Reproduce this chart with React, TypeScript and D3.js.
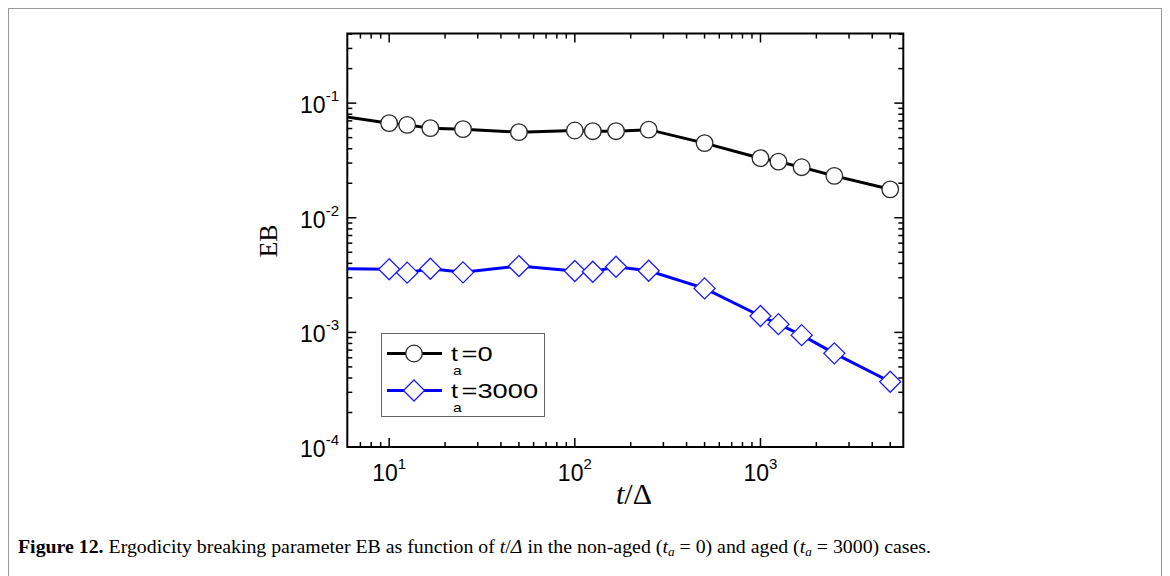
import React from "react";
import * as d3 from "d3";

const tValues = [5, 10, 12.5, 16.67, 25, 50, 100, 125, 166.7, 250, 500, 1000, 1250, 1666.7, 2500, 5000];
const ebNonAged = [0.079, 0.0669, 0.0646, 0.0605, 0.0593, 0.0558, 0.0577, 0.0569, 0.0569, 0.0587, 0.0448, 0.0331, 0.0309, 0.0276, 0.0232, 0.0177];
const ebAged = [0.0036, 0.00355, 0.00332, 0.00359, 0.00334, 0.00379, 0.00343, 0.00338, 0.00374, 0.00345, 0.00242, 0.00139, 0.00118, 0.000946, 0.000656, 0.000371];
const xDomain = [5.95, 5880];
const yDomain = [1e-4, 0.405];
const xMajorExp = [1, 2, 3];
const yMajorExp = [-1, -2, -3, -4];
const legendLabels = ["=0", "=3000"];

const W = 1170, H = 576;
const L = 347.3, R = 903.3, T = 33.5, B = 447;

export default function App() {
  const x = d3.scaleLog().domain(xDomain).range([L, R]);
  const y = d3.scaleLog().domain(yDomain).range([B, T]);
  const xt = x.ticks().filter((v) => v >= xDomain[0] * 1.01 && v <= xDomain[1]);
  const yt = y.ticks().filter((v) => v >= yDomain[0] && v <= yDomain[1]);
  const isMajor = (v: number) => Math.abs(Math.log10(v) - Math.round(Math.log10(v))) < 1e-6;

  const line = d3
    .line<number>()
    .x((_, i) => x(tValues[i]))
    .y((d) => y(d));

  const series = [
    { data: ebNonAged, color: "#000", mk: "#2a2a2a", shape: "circle" },
    { data: ebAged, color: "#0000ff", mk: "#1a1aff", shape: "diamond" },
  ];

  const marker = (shape: string, cx: number, cy: number, stroke: string, key: any) =>
    shape === "circle" ? (
      <circle key={key} cx={cx} cy={cy} r={8.3} fill="#fff" stroke={stroke} strokeWidth={1.3} />
    ) : (
      <path
        key={key}
        d={`M${cx},${cy - 10.5}L${cx + 10.5},${cy}L${cx},${cy + 10.5}L${cx - 10.5},${cy}Z`}
        fill="#fff"
        stroke={stroke}
        strokeWidth={1.3}
      />
    );

  const sans = "'Liberation Sans', Arial, sans-serif";
  const serif = "'Liberation Serif', 'Times New Roman', serif";

  return (
    <svg width={W} height={H} style={{ position: "absolute", left: 0, top: 0 }}>
      <rect x={0} y={0} width={W} height={H} fill="#fff" />
      <rect x={8.5} y={8.5} width={1153} height={620} fill="none" stroke="#9a9a9a" strokeWidth={1} />
      <defs>
        <clipPath id="plotclip">
          <rect x={L} y={T} width={R - L} height={B - T} />
        </clipPath>
      </defs>

      {/* ticks */}
      {xt.map((v, i) => {
        const len = isMajor(v) ? 9 : 5;
        const px = x(v);
        return (
          <g key={"xt" + i} stroke="#000" strokeWidth={1.5}>
            <line x1={px} x2={px} y1={B} y2={B - len} />
            <line x1={px} x2={px} y1={T} y2={T + len} />
          </g>
        );
      })}
      {yt.map((v, i) => {
        const len = isMajor(v) ? 9 : 5;
        const py = y(v);
        return (
          <g key={"yt" + i} stroke="#000" strokeWidth={1.5}>
            <line x1={L} x2={L + len} y1={py} y2={py} />
            <line x1={R} x2={R - len} y1={py} y2={py} />
          </g>
        );
      })}
      <rect x={L} y={T} width={R - L} height={B - T} fill="none" stroke="#000" strokeWidth={2} />

      {/* tick labels */}
      {xMajorExp.map((e) => (
        <text key={"xl" + e} x={x(Math.pow(10, e))} y={481} textAnchor="middle" fontFamily={sans} fontSize={23} fill="#000">
          10
          <tspan dy={-12} fontSize={15}>
            {e}
          </tspan>
        </text>
      ))}
      {yMajorExp.map((e) => (
        <text key={"yl" + e} x={339} y={y(Math.pow(10, e)) + 10} textAnchor="end" fontFamily={sans} fontSize={23} fill="#000">
          10
          <tspan dy={-12} fontSize={15}>
            {"-" + Math.abs(e)}
          </tspan>
        </text>
      ))}

      {/* axis titles */}
      <text transform="translate(277,241) rotate(-90)" textAnchor="middle" fontFamily={serif} fontSize={26} fill="#000">
        EB
      </text>
      <text x={634} y={504} textAnchor="middle" fontFamily={serif} fontSize={30} fill="#000">
        <tspan fontStyle="italic">t</tspan>
        <tspan>/Δ</tspan>
      </text>

      {/* series */}
      <g clipPath="url(#plotclip)">
        {series.map((s, si) => (
          <path key={"ln" + si} d={line(s.data) || ""} fill="none" stroke={s.color} strokeWidth={3} />
        ))}
      </g>
      {series.map((s, si) =>
        s.data.map((v, i) =>
          tValues[i] >= xDomain[0] ? marker(s.shape, x(tValues[i]), y(v), s.mk, "m" + si + "-" + i) : null
        )
      )}

      {/* legend */}
      <rect x={381.5} y={333.5} width={163} height={83} fill="#fff" stroke="#666" strokeWidth={1} />
      {series.map((s, si) => {
        const cy = si === 0 ? 353.5 : 390.5;
        return (
          <g key={"lg" + si}>
            <line x1={387} x2={442} y1={cy} y2={cy} stroke={s.color} strokeWidth={3} />
            {marker(s.shape, 414, cy, s.mk, "lm" + si)}
            <text transform={`translate(451,${cy + 7.5}) scale(1.2,1)`} fontFamily={sans} fontSize={21} fill="#000">
              t
            </text>
            <text transform={`translate(453,${cy + 21.5}) scale(1.2,1)`} fontFamily={sans} fontSize={13} fill="#000">
              a
            </text>
            <text transform={`translate(461.5,${cy + 7.5}) scale(1.3,1)`} fontFamily={sans} fontSize={21} fill="#000">
              {legendLabels[si]}
            </text>
          </g>
        );
      })}

      {/* caption */}
      <text x={18} y={553} fontFamily={serif} fontSize={18} fill="#000" textLength={913} lengthAdjust="spacingAndGlyphs">
        <tspan fontWeight="bold">Figure 12.</tspan>
        <tspan> Ergodicity breaking parameter EB as function of </tspan>
        <tspan fontStyle="italic">t</tspan>
        <tspan>/</tspan>
        <tspan fontStyle="italic">Δ</tspan>
        <tspan> in the non-aged (</tspan>
        <tspan fontStyle="italic">t</tspan>
        <tspan fontStyle="italic" fontSize={12} dy={3}>a</tspan>
        <tspan dy={-3}> = 0) and aged (</tspan>
        <tspan fontStyle="italic">t</tspan>
        <tspan fontStyle="italic" fontSize={12} dy={3}>a</tspan>
        <tspan dy={-3}> = 3000) cases.</tspan>
      </text>
    </svg>
  );
}
